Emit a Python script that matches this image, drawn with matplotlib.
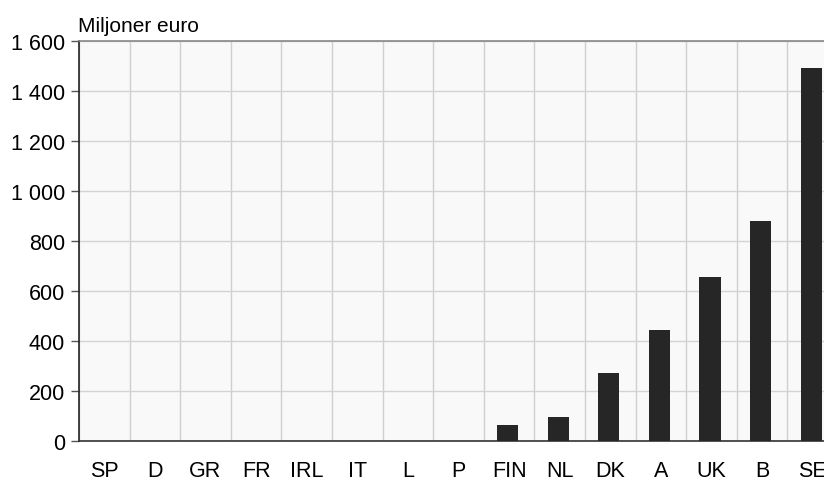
import matplotlib

matplotlib.use("Agg")

import matplotlib.pyplot as plt
import numpy as np

countries = ["SP", "D", "GR", "FR", "IRL", "IT", "L", "P",
             "FIN", "NL", "DK", "A", "UK", "B", "SE"]
values = [0, 0, 0, 0, 0, 0, 0, 0, 63, 95, 271, 443, 655, 879, 1494]
y_ticks = [0, 200, 400, 600, 800, 1000, 1200, 1400, 1600]
y_labels = ["0", "200", "400", "600", "800", "1 000", "1 200", "1 400", "1 600"]

plt.rcParams["font.family"] = ["Liberation Sans", "DejaVu Sans"]

fig = plt.figure(figsize=(8.24, 4.81), dpi=100)
# the plot runs past the right edge of the picture, as in the original
ax = fig.add_axes([79 / 824, 1 - 442 / 481, 759 / 824, 400 / 481])
ax.set_facecolor("#f9f9f9")

x = np.arange(len(countries))
ax.bar(x - 0.03, values, width=0.42, color="#262626", zorder=3)

ax.set_xlim(-0.5, len(countries) - 0.5)
ax.set_ylim(0, 1600)
ax.set_yticks(y_ticks)
ax.set_yticklabels(y_labels, fontsize=15.5)
ax.set_xticks(x)
ax.set_xticklabels(countries, fontsize=15.5)
ax.set_xticks(np.arange(len(countries) + 1) - 0.5, minor=True)

ax.tick_params(axis="x", which="both", length=0, pad=14)
ax.tick_params(axis="y", length=6, width=1, color="#555555", pad=4)
ax.grid(False)
ax.grid(axis="x", which="minor", color="#cfcfcf", linewidth=1, zorder=0)
ax.grid(axis="y", which="major", color="#d3d3d3", linewidth=1, zorder=0)

ax.spines["top"].set_color("#888888")
ax.spines["left"].set_color("#222222")
ax.spines["bottom"].set_color("#333333")
ax.spines["right"].set_visible(False)
for s in ("top", "left", "bottom"):
    ax.spines[s].set_linewidth(1.2)

fig.text(78 / 824, 1 - 27 / 481, "Miljoner euro", fontsize=15, va="center", ha="left")

fig.savefig("out.png", dpi=100)
